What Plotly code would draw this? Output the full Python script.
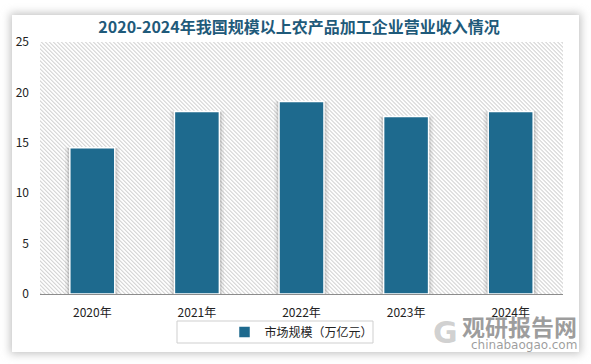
import base64
import plotly.graph_objects as go

# ---- data ----
years = ["2020年", "2021年", "2022年", "2023年", "2024年"]
market_size = [14.5, 18.1, 19.1, 17.6, 18.1]
series_name = "市场规模（万亿元）"
title_text = "2020-2024年我国规模以上农产品加工企业营业收入情况"
y_ticks = [0, 5, 10, 15, 20, 25]

# ---- layout geometry ----
W, H = 591, 364
ML, MR, MT, MB = 40, 28, 42, 70
PW, PH = W - ML - MR, H - MT - MB

BAR = "#1e6a8e"
FONT = "Noto Sans CJK SC"
BAR_W = 0.43

# background artwork: card with soft shadow + hatched plot area
svg = f'''<svg xmlns="http://www.w3.org/2000/svg" width="{W}" height="{H}" viewBox="0 0 {W} {H}">
<defs>
<filter id="s" x="-10%" y="-10%" width="120%" height="120%"><feGaussianBlur stdDeviation="4"/></filter>
<pattern id="p" width="2.83" height="2.83" patternUnits="userSpaceOnUse" patternTransform="rotate(45)">
<rect width="2.83" height="2.83" fill="#ffffff"/><rect x="0" y="0" width="2.83" height="1.0" fill="#cfcfcf"/></pattern>
</defs>
<rect width="{W}" height="{H}" fill="#ffffff"/>
<rect x="10" y="13" width="571" height="341" fill="#c4c4c4" filter="url(#s)"/>
<rect x="12" y="15" width="567" height="337" fill="#ffffff"/>
<rect x="{ML}" y="{MT}" width="{PW}" height="{PH}" fill="url(#p)"/>
</svg>'''
src = "data:image/svg+xml;base64," + base64.b64encode(svg.encode()).decode()

fig = go.Figure()
# soft shadow behind bars
for w, a in [(BAR_W + 0.09, 0.07), (BAR_W + 0.05, 0.10), (BAR_W + 0.025, 0.14)]:
    fig.add_trace(go.Bar(
        x=years, y=market_size, width=w, showlegend=False, hoverinfo="skip",
        marker=dict(color=f"rgba(60,60,60,{a})", line=dict(width=0)),
    ))
fig.add_trace(go.Bar(
    x=years, y=market_size, name=series_name, width=BAR_W,
    marker=dict(color=BAR, line=dict(color="#ffffff", width=1.5)),
    showlegend=True,
))

def px_x(p):
    return (p - ML) / PW

def px_y(p):
    return (H - MB - p) / PH

fig.add_layout_image(dict(
    source=src, xref="paper", yref="paper",
    x=px_x(0), y=px_y(0), sizex=W / PW, sizey=H / PH,
    xanchor="left", yanchor="top", sizing="stretch", layer="below",
))

# legend box
fig.add_shape(type="rect", xref="paper", yref="paper",
              x0=px_x(177), x1=px_x(373), y0=px_y(321), y1=px_y(343),
              line=dict(color="#cfcfcf", width=1), fillcolor="rgba(0,0,0,0)")

# watermark
fig.add_annotation(text="<b>观研报告网</b>", xref="paper", yref="paper",
                   x=px_x(579), y=px_y(326), xanchor="right", yanchor="middle",
                   showarrow=False, font=dict(family=FONT, size=23, color="rgba(125,125,125,0.75)"))
fig.add_annotation(text="chinabaogao.com", xref="paper", yref="paper",
                   x=px_x(579), y=px_y(345), xanchor="right", yanchor="middle",
                   showarrow=False, font=dict(family="DejaVu Sans", size=12, color="rgba(125,125,125,0.75)"))
fig.add_annotation(text="<b>G</b>", xref="paper", yref="paper",
                   x=px_x(445), y=px_y(332), xanchor="center", yanchor="middle",
                   showarrow=False, font=dict(family="DejaVu Sans", size=30, color="rgba(150,150,150,0.45)"))

fig.update_layout(
    width=W, height=H,
    margin=dict(l=ML, r=MR, t=MT, b=MB, autoexpand=False),
    paper_bgcolor="#ffffff", plot_bgcolor="rgba(0,0,0,0)",
    barmode="overlay",
    title=dict(text="<b>" + title_text + "</b>", x=0.506, xref="container", xanchor="center",
               y=1 - 27 / H, yref="container", yanchor="middle",
               font=dict(family=FONT, size=16, color="#1f5a7a")),
    font=dict(family=FONT, size=12, color="#222222"),
    legend=dict(orientation="h", x=0.5, xanchor="center", y=px_y(332), yanchor="middle",
                bgcolor="rgba(0,0,0,0)", font=dict(size=12, color="#222222"),
                itemwidth=30),
    xaxis=dict(showgrid=False, showline=True, linecolor="#8c8c8c", linewidth=1,
               ticks="", ticklabelstandoff=8, tickfont=dict(size=12)),
    yaxis=dict(range=[0, 25], tickvals=y_ticks, showgrid=False, zeroline=False,
               showline=False, ticks="", ticklabelstandoff=10, tickfont=dict(size=12)),
)

fig.write_html("out.html", config={"displayModeBar": False},
               post_script="document.body.style.margin='0';document.body.style.overflow='hidden';")
